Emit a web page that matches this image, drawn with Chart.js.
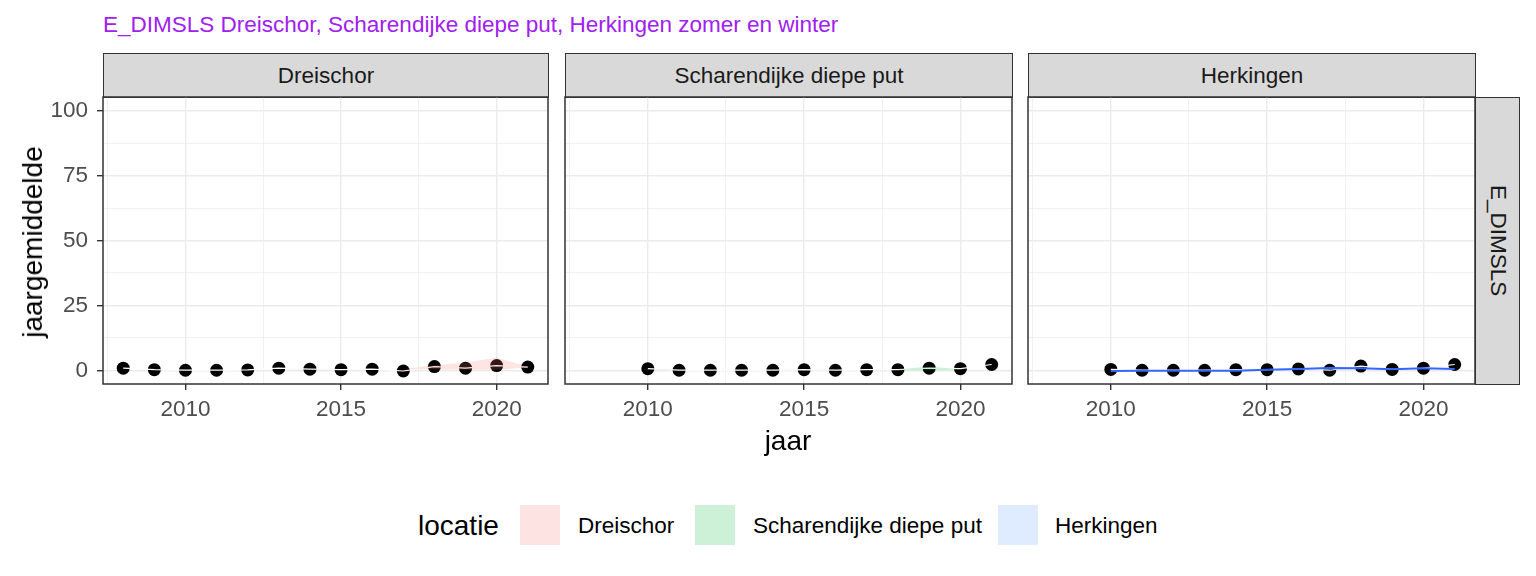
<!DOCTYPE html>
<html>
<head>
<meta charset="utf-8">
<script src="https://cdn.jsdelivr.net/npm/chart.js@4.4.1/dist/chart.umd.min.js"></script>
<style>
  body { margin: 0; background: #fff; width: 1536px; height: 576px; position: relative; overflow: hidden;
         font-family: "Liberation Sans", Arial, sans-serif; }
  canvas { position: absolute; }
  .strip { position: absolute; background: #D9D9D9; border: 1.5px solid #333; box-sizing: border-box;
           color: #1A1A1A; font-size: 22.5px; display: flex; align-items: center; justify-content: center; }
  .txt { position: absolute; white-space: nowrap; }
  .key { position: absolute; width: 40px; height: 40px; top: 505px; }
</style>
</head>
<body>
<div class="txt" style="left:103px;top:12px;font-size:22.5px;color:#A020F0">E_DIMSLS Dreischor, Scharendijke diepe put, Herkingen zomer en winter</div>

<div class="strip" style="left:103px;top:53px;width:446px;height:45px">Dreischor</div>
<div class="strip" style="left:565px;top:53px;width:448px;height:45px">Scharendijke diepe put</div>
<div class="strip" style="left:1028px;top:53px;width:448px;height:45px">Herkingen</div>
<div class="strip" style="left:1475px;top:97px;width:45px;height:288px;writing-mode:vertical-rl">E_DIMSLS</div>

<canvas id="p1" width="550" height="333" style="left:0px;top:95px"></canvas>
<canvas id="p2" width="451" height="333" style="left:563px;top:95px"></canvas>
<canvas id="p3" width="451" height="333" style="left:1026px;top:95px"></canvas>

<div class="txt" style="left:33px;top:242px;font-size:28px;transform:translate(-50%,-50%) rotate(-90deg)">jaargemiddelde</div>
<div class="txt" style="left:788px;top:441px;font-size:28px;transform:translate(-50%,-50%)">jaar</div>

<div class="txt" style="left:418px;top:510px;font-size:28px">locatie</div>
<div class="key" style="left:520px;background:#FDE4E2"></div>
<div class="txt" style="left:578px;top:513px;font-size:22.5px">Dreischor</div>
<div class="key" style="left:695px;background:#CCF1D7"></div>
<div class="txt" style="left:753px;top:513px;font-size:22.5px">Scharendijke diepe put</div>
<div class="key" style="left:998px;background:#DFEBFF"></div>
<div class="txt" style="left:1055px;top:513px;font-size:22.5px">Herkingen</div>

<script>
const years = [2008, 2009, 2010, 2011, 2012, 2013, 2014, 2015, 2016, 2017, 2018, 2019, 2020, 2021];
const xMajor = [2010, 2015, 2020];
const xMinor = [2007.5, 2012.5, 2017.5];
const yMajor = [0, 25, 50, 75, 100];
const yMinor = [12.5, 37.5, 62.5, 87.5];

const dreischorGem = [0.9, 0.3, 0.1, 0.1, 0.2, 0.9, 0.5, 0.3, 0.5, -0.2, 1.5, 0.9, 1.9, 1.3];
const dreischorLaag = [null, null, null, null, null, 0.5, 0.4, 0.4, null, 0.5, 0.4, 0.3, 0.3, 1.1];
const dreischorHoog = [null, null, null, null, null, 0.6, 0.6, 0.5, null, 0.6, 2.0, 3.0, 5.0, 1.3];

const scharGem = [null, null, 0.7, 0.1, 0.1, 0.1, 0.1, 0.3, 0.1, 0.3, 0.3, 0.9, 0.7, 2.3];
const scharLaag = [null, null, 0.4, 0.4, null, null, 0.2, 0.2, 0.2, null, 0.2, 0.0, 0.3, null];
const scharHoog = [null, null, 0.6, 0.5, null, null, 0.3, 0.3, 0.3, null, 0.4, 1.5, 0.5, null];

const herkGem = [null, null, 0.4, 0.1, 0.1, 0.1, 0.3, 0.3, 0.6, 0.1, 1.7, 0.4, 0.9, 2.3];
const herkLaag = [null, null, null, null, null, null, null, 0.4, 0.5, 0.6, 0.6, null, null, null];
const herkHoog = [null, null, null, null, null, null, null, 0.5, 0.8, 1.3, 1.0, null, null, null];
const herkLijn = [null, null, -0.2, -0.1, -0.1, -0.1, -0.1, 0.3, 0.6, 1.0, 0.9, 0.5, 0.9, 0.6];

function punten(vals) {
  const out = [];
  for (let i = 0; i < years.length; i++) out.push({ x: years[i], y: vals[i] });
  return out;
}

const framePlugin = {
  id: 'frame',
  afterDraw(chart) {
    const a = chart.chartArea, c = chart.ctx;
    c.save();
    c.strokeStyle = '#333333';
    c.lineWidth = 1.5;
    c.strokeRect(a.left, a.top, a.right - a.left, a.bottom - a.top);
    c.restore();
  }
};

function maakPaneel(id, gem, laag, hoog, lijn, kleur, vulling, toonY) {
  const datasets = [
    { data: punten(gem), showLine: false, pointRadius: 6.5, pointBackgroundColor: '#000', pointBorderWidth: 0, order: 3 },
    { data: punten(gem), showLine: true, borderColor: '#fff', borderWidth: 1.2, pointRadius: 0, spanGaps: false, order: 2 },
    { data: punten(laag), showLine: true, borderWidth: 0, borderColor: 'rgba(0,0,0,0)', pointRadius: 0, order: 1 },
    { data: punten(hoog), showLine: true, borderWidth: 0, borderColor: 'rgba(0,0,0,0)', pointRadius: 0,
      fill: '-1', backgroundColor: vulling, order: 1 }
  ];
  if (lijn) {
    datasets.push({ data: punten(lijn), showLine: true, borderColor: kleur, borderWidth: 2, pointRadius: 0, order: 0 });
  }
  new Chart(document.getElementById(id), {
    type: 'scatter',
    data: { datasets: datasets },
    options: {
      responsive: false,
      animation: false,
      layout: { autoPadding: false, padding: { top: 2, right: 2, left: 0, bottom: 0 } },
      plugins: { legend: { display: false }, tooltip: { enabled: false } },
      scales: {
        x: {
          type: 'linear', min: 2007.35, max: 2021.65,
          afterBuildTicks(s) { s.ticks = xMajor.concat(xMinor).map(v => ({ value: v })); },
          afterFit(s) { s.height = 44; s.paddingLeft = 0; s.paddingRight = 0; },
          border: { display: false },
          grid: {
            color: '#EBEBEB',
            lineWidth: c => xMajor.includes(c.tick.value) ? 1.4 : 0.7,
            tickColor: c => xMajor.includes(c.tick.value) ? '#333333' : 'rgba(0,0,0,0)',
            tickLength: 6
          },
          ticks: {
            autoSkip: false, maxRotation: 0, padding: 6, color: '#4D4D4D',
            font: { family: 'Liberation Sans', size: 22.5 },
            callback: v => xMajor.includes(v) ? String(v) : ''
          }
        },
        y: {
          type: 'linear', min: -5.2, max: 105.2,
          afterBuildTicks(s) { s.ticks = yMajor.concat(yMinor).map(v => ({ value: v })); },
          afterFit(s) { s.width = toonY ? 103 : 2; s.paddingTop = 0; s.paddingBottom = 0; },
          border: { display: false },
          grid: {
            color: '#EBEBEB',
            lineWidth: c => yMajor.includes(c.tick.value) ? 1.4 : 0.7,
            tickColor: c => yMajor.includes(c.tick.value) ? '#333333' : 'rgba(0,0,0,0)',
            tickLength: 6,
            drawTicks: toonY
          },
          ticks: {
            display: toonY, autoSkip: false, padding: 9, color: '#4D4D4D',
            font: { family: 'Liberation Sans', size: 22.5 },
            callback: v => yMajor.includes(v) ? String(v) : ''
          }
        }
      }
    },
    plugins: [framePlugin]
  });
}

maakPaneel('p1', dreischorGem, dreischorLaag, dreischorHoog, null, '#F8766D', 'rgba(248,118,109,0.2)', true);
maakPaneel('p2', scharGem, scharLaag, scharHoog, null, '#00BA38', 'rgba(0,186,56,0.2)', false);
maakPaneel('p3', herkGem, herkLaag, herkHoog, herkLijn, '#3366FF', 'rgba(97,156,255,0.2)', false);
</script>
</body>
</html>
